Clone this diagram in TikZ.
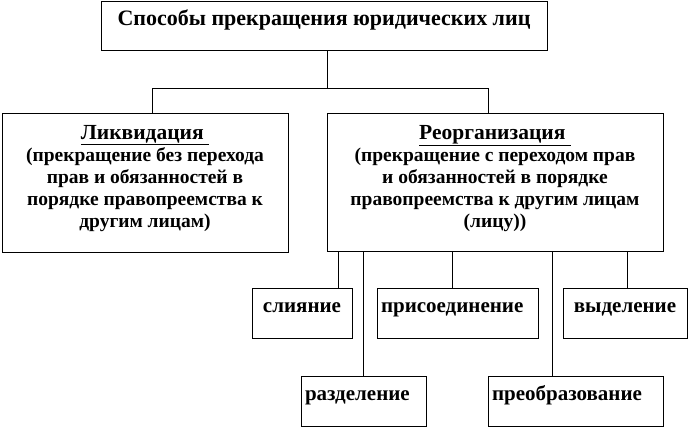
\documentclass[tikz,border=0pt]{standalone}
\usepackage{fontspec}
\setmainfont{Liberation Serif}
\usetikzlibrary{positioning, calc}

\begin{document}
\begin{tikzpicture}[
        x=1pt, y=-1pt,
        box/.style={rectangle, draw, line width=0.8pt, inner xsep=4pt, inner ysep=0pt},
        headbox/.style={box, font=\bfseries\fontsize{22}{26}\selectfont, text height=8pt, text depth=8pt},
        mainbox/.style={box, align=center, font=\bfseries\fontsize{19.5}{22}\selectfont},
        formbox/.style={box, minimum height=50pt, font=\bfseries\fontsize{21}{24}\selectfont, text height=8pt, text depth=8pt},
        link/.style={line width=0.8pt}
    ]
    \useasboundingbox (0,0) rectangle (689,427);

    % Title
    \node[headbox, minimum width=446pt, minimum height=48.5pt] (title) at (324,25.75)
        {Способы прекращения юридических лиц};

    % Two ways
    \node[mainbox, minimum width=286pt, minimum height=139pt, text depth=12pt] (liq) at (145,182.5)
        {{\fontsize{21.5}{22}\selectfont\underline{Ликвидация~}}\\
         (прекращение без перехода\\
         прав и обязанностей в\\
         порядке правопреемства к\\
         другим лицам)};
    \node[mainbox, minimum width=336pt, minimum height=138pt, text depth=12pt] (reorg) at (495,182)
        {{\fontsize{21.5}{22}\selectfont\underline{Реорганизация~}}\\
         (прекращение с переходом прав~\\
         и обязанностей в порядке\\
         правопреемства к другим лицам\\
         (лицу))};

    % Forms of reorganisation
    \node[formbox, minimum width=100pt, align=center] (merge) at (302,313) {слияние};
    \node[formbox, minimum width=161pt, text width=153pt, align=left] (join) at (457.5,313) {присоединение};
    \node[formbox, minimum width=124pt, align=center] (split) at (625,313) {выделение};
    \node[formbox, minimum width=125pt, text width=117pt, align=left] (divide) at (363.5,401) {разделение};
    \node[formbox, minimum width=175pt, text width=167pt, align=left] (transform) at (575.5,401) {преобразование};

    % Tree from the title
    \coordinate (fork) at ([xshift=3pt]title.south |- 0,88);
    \draw[link] ([xshift=3pt]title.south) -- (fork);
    \draw[link] (fork) -| ([xshift=7pt]liq.north);
    \draw[link] (fork) -| ([xshift=-7pt]reorg.north);

    % Branches from reorganisation
    \coordinate (m) at ([xshift=36pt]merge.north);
    \coordinate (j) at ([xshift=-5.5pt]join.north);
    \coordinate (s) at ([xshift=2pt]split.north);
    \coordinate (t) at ([xshift=-23.5pt]transform.north);
    \draw[link] (m |- reorg.south) -- (m);
    \draw[link] (j |- reorg.south) -- (j);
    \draw[link] (s |- reorg.south) -- (s);
    \draw[link] (divide.north |- reorg.south) -- (divide.north);
    \draw[link] (t |- reorg.south) -- (t);

\end{tikzpicture}
\end{document}
